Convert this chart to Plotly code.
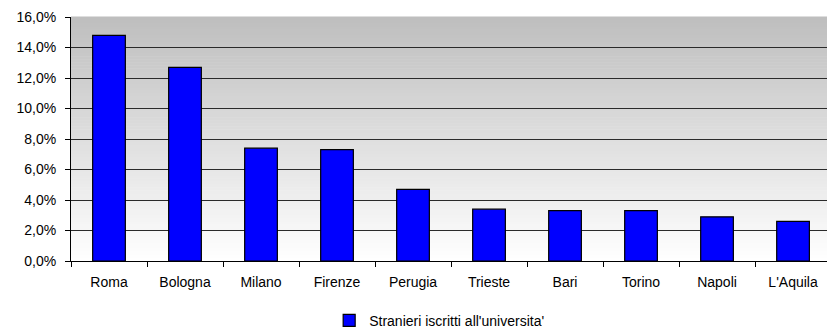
import plotly.graph_objects as go

# Foreign students enrolled, share by university city (%)
cities = ["Roma", "Bologna", "Milano", "Firenze", "Perugia",
          "Trieste", "Bari", "Torino", "Napoli", "L'Aquila"]
share_pct = [14.8, 12.7, 7.4, 7.3, 4.7, 3.4, 3.3, 3.3, 2.9, 2.6]
series_name = "Stranieri iscritti all'universita'"
y_ticks = [0, 2, 4, 6, 8, 10, 12, 14, 16]
y_tick_text = [f"{v:.1f}%".replace(".", ",") for v in y_ticks]

font = dict(family="Liberation Sans, Arial, sans-serif", size=14, color="#000000")

fig = go.Figure()
fig.add_trace(go.Bar(
    x=cities,
    y=share_pct,
    name=series_name,
    marker=dict(color="#0000ff", line=dict(color="#000000", width=1.2)),
    showlegend=True,
))

# vertical grey-to-white gradient behind the plot area
n_bands = 80
shapes = []
for i in range(n_bands):
    t = (i + 0.5) / n_bands          # 0 at bottom, 1 at top
    g = round(255 - (255 - 190) * t)
    shapes.append(dict(
        type="rect", xref="x domain", yref="y domain", layer="below",
        x0=0, x1=1, y0=i / n_bands, y1=(i + 1) / n_bands + 0.002,
        fillcolor=f"rgb({g},{g},{g})", line=dict(width=0),
    ))

fig.update_layout(
    width=827, height=328,
    margin=dict(l=71, r=0, t=17, b=67, autoexpand=False),
    paper_bgcolor="#ffffff",
    plot_bgcolor="rgba(0,0,0,0)",
    font=font,
    bargap=0.57,
    shapes=shapes,
    showlegend=True,
    legend=dict(
        orientation="h", x=0.487, xanchor="center", y=-0.245, yanchor="middle",
        font=font, bgcolor="rgba(0,0,0,0)",
    ),
    xaxis=dict(
        range=[-0.5, 9.447],
        showline=True, linecolor="#000000", linewidth=1,
        ticks="outside", tickson="boundaries", ticklen=5,
        tickcolor="#000000", tickwidth=1,
        showgrid=False, ticklabelstandoff=8, automargin=False,
        tickfont=font,
    ),
    yaxis=dict(
        range=[0, 16],
        tickmode="array", tickvals=y_ticks, ticktext=y_tick_text,
        showline=True, linecolor="#000000", linewidth=1,
        ticks="outside", ticklen=5, tickcolor="#000000", tickwidth=1,
        showgrid=True, gridcolor="#2a2a2a", gridwidth=1,
        zeroline=False, ticklabelstandoff=6, automargin=False,
        tickfont=font,
    ),
)

fig.write_html("out.html")
